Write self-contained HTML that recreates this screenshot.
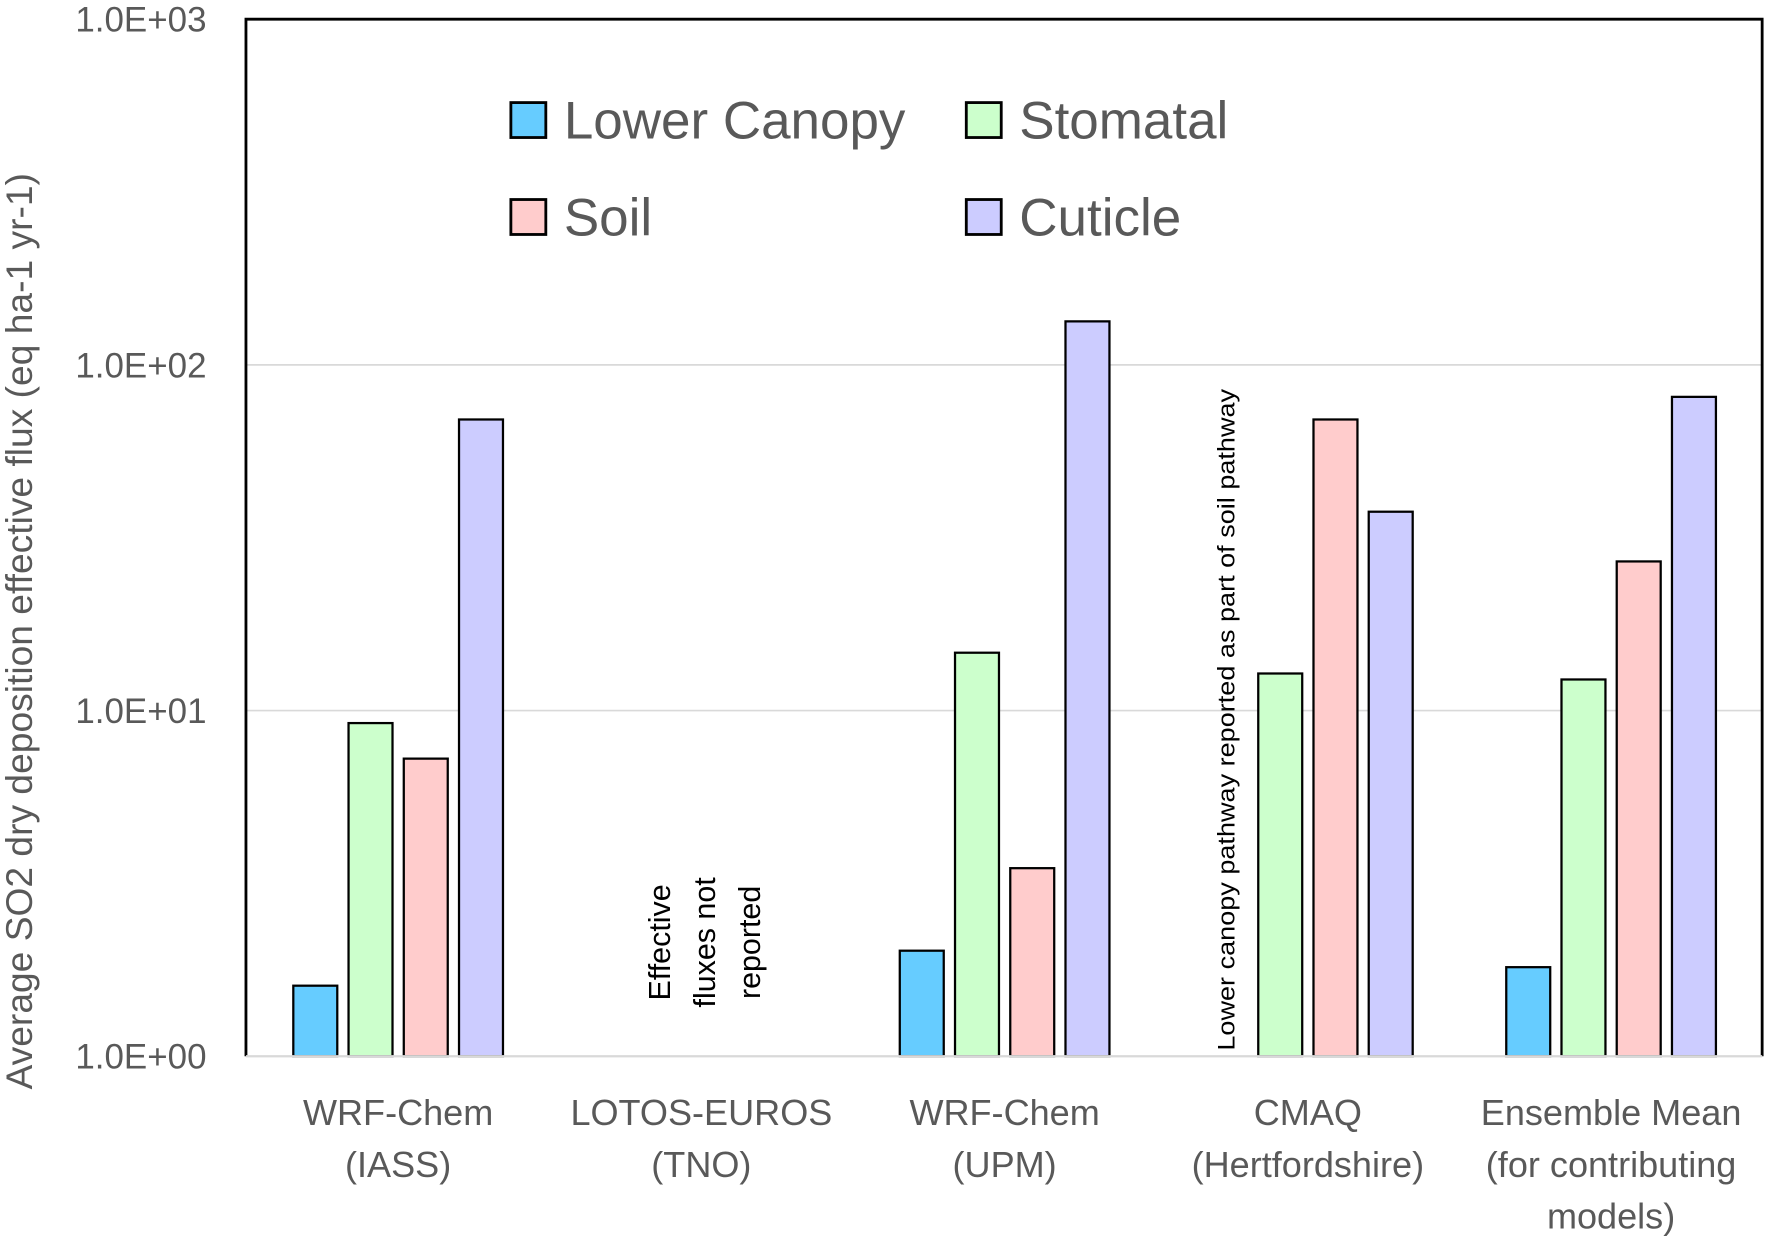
<!DOCTYPE html>
<html><head><meta charset="utf-8"><style>
html,body{margin:0;padding:0;background:#fff;}
svg{display:block;font-family:"Liberation Sans",sans-serif;}
</style></head><body>
<svg id="chart" width="1768" height="1240" viewBox="0 0 1568 1100" xmlns="http://www.w3.org/2000/svg">
<rect width="1568" height="1100" fill="#fff"/>
<g id="grid"></g>
<g id="bars"></g>
<path d="M218,937 L218,17 L1563,17 L1563,937" fill="none" stroke="#000" stroke-width="2.5"/>
<line x1="218" y1="937" x2="1563" y2="937" stroke="#d9d9d9" stroke-width="2"/>
<g id="yticks" font-size="31" fill="#595959" text-anchor="end"></g>
<g id="xlabels" font-size="32" fill="#595959" text-anchor="middle"></g>
<text transform="translate(28,560) rotate(-90)" text-anchor="middle" font-size="33" fill="#595959">Average SO2 dry deposition effective flux (eq ha-1 yr-1)</text>
<g font-size="27" fill="#000" text-anchor="middle">
<text transform="translate(594,836) rotate(-90)">Effective</text>
<text transform="translate(634,836) rotate(-90)">fluxes not</text>
<text transform="translate(674,836) rotate(-90)">reported</text>
</g>
<text transform="translate(1095,932) rotate(-90)" font-size="21.5" textLength="587" lengthAdjust="spacingAndGlyphs" fill="#000">Lower canopy pathway reported as part of soil pathway</text>
<g id="legend" font-size="47" fill="#595959"></g>
</svg>
<script>
var categories=[["WRF-Chem","(IASS)"],["LOTOS-EUROS","(TNO)"],["WRF-Chem","(UPM)"],["CMAQ","(Hertfordshire)"],["Ensemble Mean","(for contributing","models)"]];
var seriesNames=["Lower Canopy","Stomatal","Soil","Cuticle"];
var seriesColors=["#66ccff","#ccffcc","#ffcccc","#ccccff"];
var lowerCanopy=[1.6,null,2.02,null,1.81];
var stomatal=[9.2,null,14.7,12.8,12.3];
var soil=[7.26,null,3.5,69.5,27];
var cuticle=[69.5,null,133.6,37.6,80.8];
var tickValues=[1,10,100,1000];
var tickLabels=["1.0E+00","1.0E+01","1.0E+02","1.0E+03"];
var series=[lowerCanopy,stomatal,soil,cuticle];
var NS="http://www.w3.org/2000/svg";
function yScale(v){return 937-Math.log10(v)*(920/3);}
function xc(i){return 353+i*269;}
function mk(t,a,p){var e=document.createElementNS(NS,t);for(var k in a)e.setAttribute(k,String(a[k]));p.appendChild(e);return e;}
var grid=document.getElementById('grid'),yt=document.getElementById('yticks');
tickValues.forEach(function(v,i){
 if(i>0&&i<tickValues.length-1){var l=mk('line',{x1:218,x2:1563,y1:yScale(v),y2:yScale(v),stroke:'#d9d9d9','stroke-width':1.5},grid);
 
 }
 var t=mk('text',{x:183,y:yScale(v)+11},yt);t.textContent=tickLabels[i];
 
 
});
var bars=document.getElementById('bars');
series.forEach(function(s,si){s.forEach(function(v,ci){if(v==null)return;
 var x=xc(ci)-93+si*49;
 var r=mk('rect',{x:x,y:yScale(v),width:39,height:937-yScale(v),fill:seriesColors[si],stroke:'#000','stroke-width':2},bars);
 
 
});});
var xl=document.getElementById('xlabels');
categories.forEach(function(c,i){c.forEach(function(ln,j){var t=mk('text',{x:xc(i),y:998+j*46},xl);t.textContent=ln;
 
 });});
var lg=document.getElementById('legend');
var lpos=[[453,91],[857,91],[453,177],[857,177]];
seriesNames.forEach(function(n,i){var lx=lpos[i][0],ly=lpos[i][1];
 var b=mk('rect',{x:lx,y:ly,width:31,height:31,fill:seriesColors[i],stroke:'#000','stroke-width':2.5},lg);
 
 
 var t=mk('text',{x:lx+47,y:ly+32},lg);t.textContent=n;
 
 
});
</script>
</body></html>
